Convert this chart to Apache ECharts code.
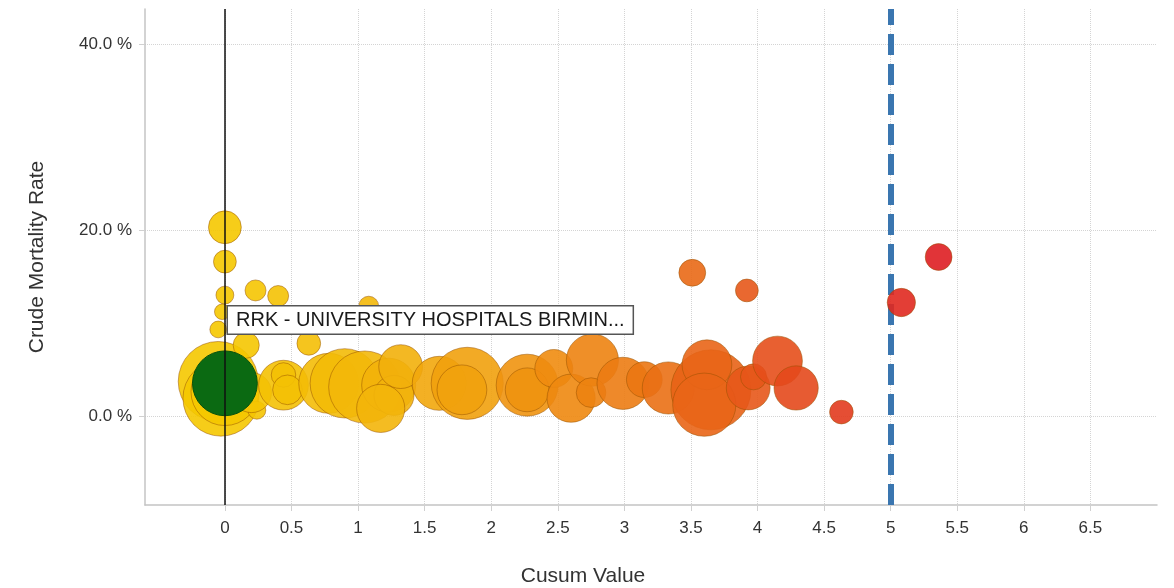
<!DOCTYPE html>
<html>
<head>
<meta charset="utf-8">
<script src="https://cdn.jsdelivr.net/npm/echarts@6/dist/echarts.min.js"></script>
<style>
  html, body { margin: 0; padding: 0; background: #fff; }
  #chart { width: 1174px; height: 588px; }
</style>
</head>
<body>
<div id="chart"></div>
<script>
// trusts: cusum value, crude mortality rate (%), number of cases
const cusumValues = [0, 0, 0, 0.23, 0.40, -0.02, -0.05, -0.05, -0.03, 0, 0.24, 0.16, 0.63, 0.2,
  0.44, 0.44, 0.47, 0.78, 0.9, 1.05, 1.08, 1.23, 1.27, 1.32, 1.17, 1.61, 1.82, 1.78,
  2.27, 2.27, 2.47, 2.6, 2.76, 2.75, 2.99, 3.15, 3.33, 3.65, 3.62, 3.6, 3.93, 3.97,
  4.15, 4.29, 4.63, 3.51, 3.92, 5.36, 5.08];
const mortalityRates = [20.3, 16.6, 13.0, 13.5, 12.9, 11.2, 9.3, 3.7, 1.9, 2.6, 0.6, 7.6, 7.8, 2.5,
  3.3, 4.4, 2.8, 3.5, 3.5, 3.1, 11.8, 3.3, 2.2, 5.3, 0.8, 3.5, 3.5, 2.8,
  3.3, 2.8, 5.1, 1.9, 6.0, 2.5, 3.5, 3.9, 3.0, 2.8, 5.5, 1.2, 3.0, 4.2,
  5.9, 3.0, 0.4, 15.4, 13.5, 17.1, 12.2];
const caseCounts = [270, 130, 80, 110, 110, 60, 70, 1600, 1440, 1150, 80, 170, 140, 400,
  620, 150, 220, 900, 1200, 1300, 100, 730, 400, 480, 580, 730, 1300, 620,
  960, 480, 360, 580, 680, 220, 680, 320, 680, 1600, 620, 1000, 480, 170,
  620, 490, 140, 180, 130, 180, 200];

// highlighted trust
const highlightName = 'RRK - UNIVERSITY HOSPITALS BIRMIN...';
const highlightCusum = 0;
const highlightRate = 3.5;
const highlightCases = 1050;

// axes
const xTickValues = [0, 0.5, 1, 1.5, 2, 2.5, 3, 3.5, 4, 4.5, 5, 5.5, 6, 6.5];
const yTickValues = [0, 20, 40];
const zeroLine = 0;
const alarmLimit = 5;

const font = 'Liberation Sans, Arial, sans-serif';

const trustData = cusumValues.map((x, i) => [x, mortalityRates[i], caseCounts[i]]);
const bubbleSize = v => 2 * Math.sqrt(v[2]);

const chart = echarts.init(document.getElementById('chart'));
chart.setOption({
  animation: false,
  grid: { left: 145, right: 17, top: 9, bottom: 83, outerBoundsMode: 'none', containLabel: false },
  xAxis: {
    type: 'value',
    min: -0.6,
    max: 7,
    name: 'Cusum Value',
    nameLocation: 'middle',
    nameGap: 61,
    nameTextStyle: { fontSize: 21, color: '#333', fontFamily: font, padding: [0, 136, 0, 0] },
    axisLine: { onZero: false, lineStyle: { color: '#c4c4c4', width: 1.5 } },
    axisTick: { show: true, length: 6, customValues: xTickValues, lineStyle: { color: '#d0d0d0' } },
    axisLabel: { customValues: xTickValues, fontSize: 17, color: '#333', fontFamily: font, margin: 15 },
    splitLine: { show: true, lineStyle: { color: '#d4d4d4', type: 'dotted', width: 1 } }
  },
  yAxis: {
    type: 'value',
    min: -9.6,
    max: 43.8,
    name: 'Crude Mortality Rate',
    nameLocation: 'middle',
    nameGap: 97,
    nameTextStyle: { fontSize: 21, color: '#333', fontFamily: font },
    axisLine: { show: true, onZero: false, lineStyle: { color: '#c4c4c4', width: 1.5 } },
    axisTick: { show: true, length: 6, customValues: yTickValues, lineStyle: { color: '#d0d0d0' } },
    axisLabel: {
      customValues: yTickValues, fontSize: 17, color: '#333', fontFamily: font, margin: 13,
      formatter: v => v.toFixed(1) + ' %'
    },
    splitLine: { show: true, lineStyle: { color: '#d4d4d4', type: 'dotted', width: 1 } }
  },
  visualMap: {
    show: false,
    type: 'continuous',
    seriesIndex: 1,
    dimension: 0,
    min: 0,
    max: 5.4,
    inRange: { color: ['#f5c800', '#f3b80a', '#f0960e', '#eb7414', '#e4481c', '#de1c22'] }
  },
  series: [
    {
      // alarm limit, drawn under the bubbles
      type: 'line',
      data: [],
      silent: true,
      z: 1,
      markLine: {
        silent: true,
        symbol: 'none',
        label: { show: false },
        z: 1,
        data: [
          { xAxis: alarmLimit, lineStyle: { color: '#3a76b0', width: 6, type: [21, 9] } }
        ]
      }
    },
    {
      type: 'scatter',
      data: trustData,
      symbolSize: bubbleSize,
      itemStyle: { opacity: 0.9, borderColor: 'rgba(150, 80, 0, 0.55)', borderWidth: 1 },
      emphasis: { disabled: true },
      z: 2
    },
    {
      type: 'scatter',
      data: [{
        value: [highlightCusum, highlightRate, highlightCases],
        label: {
          show: true,
          formatter: highlightName,
          position: [36, -44],
          fontSize: 20,
          color: '#1a1a1a',
          opacity: 1,
          fontFamily: font,
          backgroundColor: '#fff',
          borderColor: '#555',
          borderWidth: 1.5,
          padding: [4, 8, 3, 8]
        }
      }],
      symbolSize: bubbleSize,
      itemStyle: { color: '#0b6a12', borderColor: '#07500c', borderWidth: 1, opacity: 1 },
      emphasis: { disabled: true },
      z: 4
    },
    {
      // zero reference line, over the bubbles
      type: 'line',
      data: [],
      silent: true,
      z: 5,
      markLine: {
        silent: true,
        symbol: 'none',
        label: { show: false },
        z: 5,
        data: [
          { xAxis: zeroLine, lineStyle: { color: '#111', width: 1.5, type: 'solid' } }
        ]
      }
    }
  ]
});
</script>
</body>
</html>
